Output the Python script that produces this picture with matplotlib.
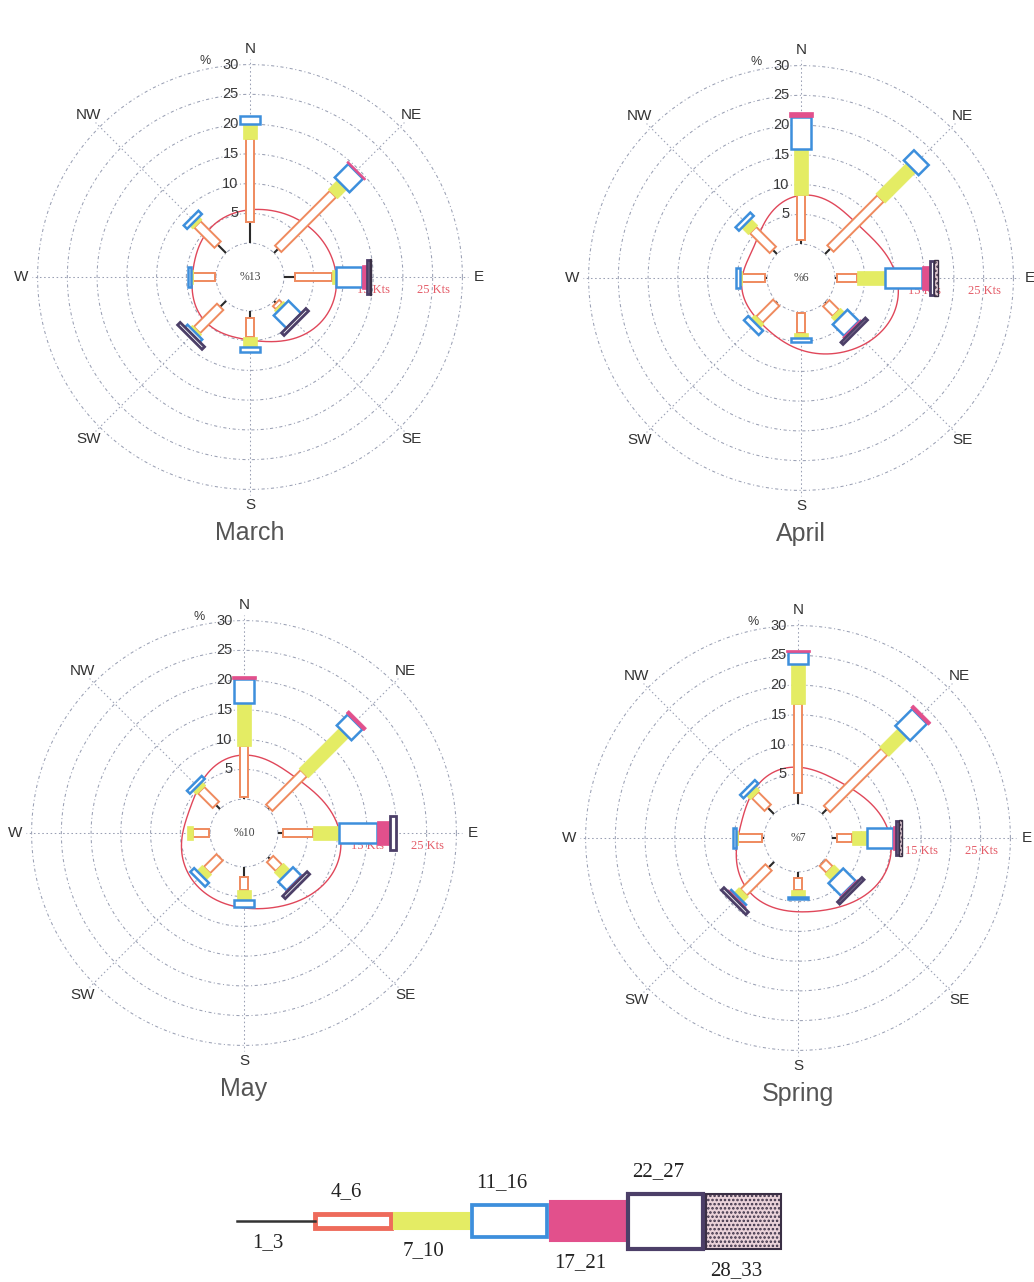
import numpy as np
import matplotlib.pyplot as plt
from matplotlib.patches import Polygon, Rectangle

plt.rcParams["hatch.linewidth"] = 1.2

directions = ["N", "NE", "E", "SE", "S", "SW", "W", "NW"]
dir_angles = [0, 45, 90, 135, 180, 225, 270, 315]
speed_classes = ["1_3", "4_6", "7_10", "11_16", "17_21", "22_27", "28_33"]

# frequency (%) of each speed class (1_3 ... 28_33), one row per direction N..NW
march_freq = [
    [3.5, 14.0, 2.5, 1.4, 0, 0, 0],
    [1.0, 13.0, 2.2, 3.2, 0.3, 0, 0],
    [1.9, 6.2, 0.7, 4.4, 0.8, 0.4, 0.3],
    [0.5, 0.7, 0.5, 3.0, 0, 0.6, 0],
    [1.2, 3.2, 1.7, 0.8, 0, 0, 0],
    [1.4, 5.5, 0.5, 0.6, 0, 0.6, 0],
    [0.2, 3.7, 0.3, 0.6, 0, 0, 0],
    [2.0, 4.8, 0.7, 0.8, 0, 0, 0],
]
april_freq = [
    [0.7, 7.6, 7.6, 5.5, 0.8, 0, 0],
    [1.3, 11.9, 7.3, 2.4, 0, 0, 0],
    [0.3, 3.4, 4.8, 6.2, 1.2, 0.7, 0.7],
    [0.3, 2.3, 1.0, 2.7, 0.4, 0.5, 0],
    [0.2, 3.4, 0.8, 0.6, 0, 0, 0],
    [0.2, 4.0, 0.9, 1.0, 0, 0, 0],
    [0.4, 3.9, 0.3, 0.6, 0, 0, 0],
    [1.0, 4.7, 1.6, 0.8, 0, 0, 0],
]
may_freq = [
    [0.3, 8.6, 7.3, 3.9, 0.6, 0, 0],
    [0.3, 8.2, 9.6, 2.6, 0.6, 0, 0],
    [0.8, 5.1, 4.3, 6.5, 2.1, 1.0, 0],
    [0.5, 2.1, 1.6, 2.0, 0.2, 0.6, 0],
    [1.7, 2.2, 1.7, 1.2, 0, 0, 0],
    [0.1, 3.0, 1.3, 0.9, 0, 0, 0],
    [0.1, 2.7, 1.1, 0, 0, 0, 0],
    [1.0, 3.5, 0.9, 0.7, 0, 0, 0],
]
spring_freq = [
    [1.9, 14.9, 6.8, 2.0, 0.3, 0, 0],
    [1.2, 13.6, 4.4, 4.0, 0.6, 0, 0],
    [0.8, 2.6, 2.5, 4.3, 0.5, 0.6, 0.5],
    [0.2, 1.6, 1.5, 3.0, 0.3, 0.5, 0],
    [1.0, 2.0, 1.2, 0.4, 0, 0, 0],
    [1.3, 5.9, 1.2, 0.3, 0.3, 0.6, 0],
    [0.3, 4.1, 0.3, 0.6, 0, 0, 0],
    [1.5, 3.0, 1.0, 0.8, 0, 0, 0],
]

# mean wind speed (Kts) per direction N..NW (red contour)
march_speed = [8.3, 9.8, 11.5, 10.4, 7.6, 7.6, 6.7, 7.4]
april_speed = [10.9, 10.1, 13.1, 12.5, 9.1, 7.1, 6.9, 7.1]
may_speed = [10.1, 9.8, 13.1, 12.1, 9.6, 8.8, 7.3, 7.8]
spring_speed = [8.9, 9.1, 12.5, 11.5, 9.4, 9.1, 7.1, 7.8]

calm_pct = [13, 6, 10, 7]
panel_titles = ["March", "April", "May", "Spring"]
ring_ticks = [5, 10, 15, 20, 25, 30]
speed_marks = [15, 25]

# styles
seg_width = [0, 1.5, 2.2, 3.5, 4.2, 5.8, 6.0]
seg_face = ["none", "white", "#e4ec64", "white", "#e2508c", "white", "#ead2d9"]
seg_edge = ["#2a2a2a", "#ef8a5e", "#e4ec64", "#3d8fdc", "#e2508c", "#4c3f68", "#3a2f45"]
seg_lw = [1.5, 1.4, 0.5, 1.8, 0.5, 2.0, 1.0]
seg_hatch = [None, None, None, None, None, None, "...."]
legend_h = [0, 14, 16, 32, 40, 55, 55]
GRID = "#9aa0b4"
RED = "#e0475a"

PX = 5.95      # pixels per percent unit
R0 = 5.7       # calm circle radius (units)
KT0 = 3.0      # offset of speed scale
AX_PX = 480
LIM = AX_PX / 2 / PX
W, H = 1034, 1282
panel_centers = [(250, 277), (801, 278), (244, 833), (798, 838)]


def smooth_closed(radii, n=400):
    r = np.asarray(radii, float)
    N = len(r)
    c = np.fft.rfft(r) / N
    th = np.linspace(0, 2 * np.pi, n)
    out = np.full(n, c[0].real)
    for k in range(1, len(c)):
        w = 1 if (N % 2 == 0 and k == N // 2) else 2
        out += w * (c[k] * np.exp(1j * k * th)).real
    return th, out


def draw_rose(ax, freq, speed, calm, title):
    ax.set_xlim(-LIM, LIM)
    ax.set_ylim(-LIM, LIM)
    ax.set_aspect("equal")
    ax.axis("off")
    t = np.linspace(0, 2 * np.pi, 500)
    for p in [0] + ring_ticks:
        r = R0 + p
        ax.plot(r * np.cos(t), r * np.sin(t), color=GRID, lw=0.75,
                ls=(0, (3, 2.5, 1, 2.5)), zorder=1)
    for name, ang in zip(directions, dir_angles):
        th = np.radians(ang)
        u = np.array([np.sin(th), np.cos(th)])
        ax.plot([R0 * u[0], (R0 + 31) * u[0]], [R0 * u[1], (R0 + 31) * u[1]],
                color=GRID, lw=0.75, ls=(0, (1.5, 2.5)), zorder=1)
        ax.text(38.4 * u[0], 38.4 * u[1], name, ha="center", va="center",
                fontsize=11, color="#333333", family="Liberation Sans")
    for p in ring_ticks:
        ax.text(-1.9, R0 + p, str(p), ha="right", va="center", fontsize=10.5,
                color="#3a3a3a", family="Liberation Sans", zorder=12)
    ax.text(-6.6, R0 + 30.6, "%", ha="right", va="center", fontsize=9,
            color="#3a3a3a", family="Liberation Sans")
    ax.text(0, 0, f"%{calm}", ha="center", va="center", fontsize=8.5,
            color="#444444", family="Liberation Serif")
    for v in speed_marks:
        ax.text(KT0 + v, -2.2, f"{v} Kts", ha="left", va="center", fontsize=9,
                color="#e45c68", family="Liberation Serif", zorder=2)

    # red mean-speed contour
    th, rr = smooth_closed([KT0 + s for s in speed])
    ax.plot(rr * np.sin(th), rr * np.cos(th), color=RED, lw=1.0, zorder=3)

    # segmented bars
    for d, ang in enumerate(dir_angles):
        th = np.radians(ang)
        u = np.array([np.sin(th), np.cos(th)])
        nv = np.array([np.cos(th), -np.sin(th)])
        start = R0
        for k, val in enumerate(freq[d]):
            if val <= 0:
                continue
            end = start + val
            if k == 0:
                ax.plot([start * u[0], end * u[0]], [start * u[1], end * u[1]],
                        color=seg_edge[0], lw=seg_lw[0], solid_capstyle="butt", zorder=4)
            else:
                hw = seg_width[k] / 2
                pts = [start * u + hw * nv, end * u + hw * nv,
                       end * u - hw * nv, start * u - hw * nv]
                ax.add_patch(Polygon(pts, closed=True, facecolor=seg_face[k],
                                     edgecolor=seg_edge[k], lw=seg_lw[k],
                                     hatch=seg_hatch[k], zorder=4 + k))
            start = end

    ax.text(0, -43.0, title, ha="center", va="center", fontsize=18,
            color="#555555", family="Liberation Sans", clip_on=False)


fig = plt.figure(figsize=(W / 100, H / 100), dpi=100)
fig.patch.set_facecolor("white")

all_freq = [march_freq, april_freq, may_freq, spring_freq]
all_speed = [march_speed, april_speed, may_speed, spring_speed]
for (cx, cy), freq, speed, calm, title in zip(panel_centers, all_freq, all_speed,
                                              calm_pct, panel_titles):
    ax = fig.add_axes([(cx - AX_PX / 2) / W, 1 - (cy + AX_PX / 2) / H, AX_PX / W, AX_PX / H])
    draw_rose(ax, freq, speed, calm, title)

# legend strip (pixel coordinates)
lax = fig.add_axes([200 / W, 0, 640 / W, 132 / H])
lax.set_xlim(200, 840)
lax.set_ylim(1282, 1150)
lax.axis("off")
x0, seg_len, yc = 237, 78, 1221
for k, label in enumerate(speed_classes):
    xs = x0 + k * seg_len
    h = legend_h[k]
    if k == 0:
        lax.plot([xs, xs + seg_len], [yc, yc], color="#333333", lw=1.8)
    elif k == 1:
        lax.add_patch(Rectangle((xs, yc - h / 2), seg_len - 2, h, facecolor="white",
                                edgecolor="#ee6b5b", lw=3.5))
    else:
        lax.add_patch(Rectangle((xs + 1, yc - h / 2), seg_len - 3, h,
                                facecolor=seg_face[k], edgecolor=seg_edge[k],
                                lw=max(seg_lw[k], 1.0) * 1.5, hatch=seg_hatch[k]))
    above = k % 2 == 1
    ly = yc - h / 2 - 22 if above else yc + h / 2 + 22
    lax.text(xs + seg_len / 2 - 8, ly, label, ha="center", va="center", fontsize=15,
             family="Liberation Serif", color="#222222")

fig.savefig("out.png", dpi=100, facecolor="white")
